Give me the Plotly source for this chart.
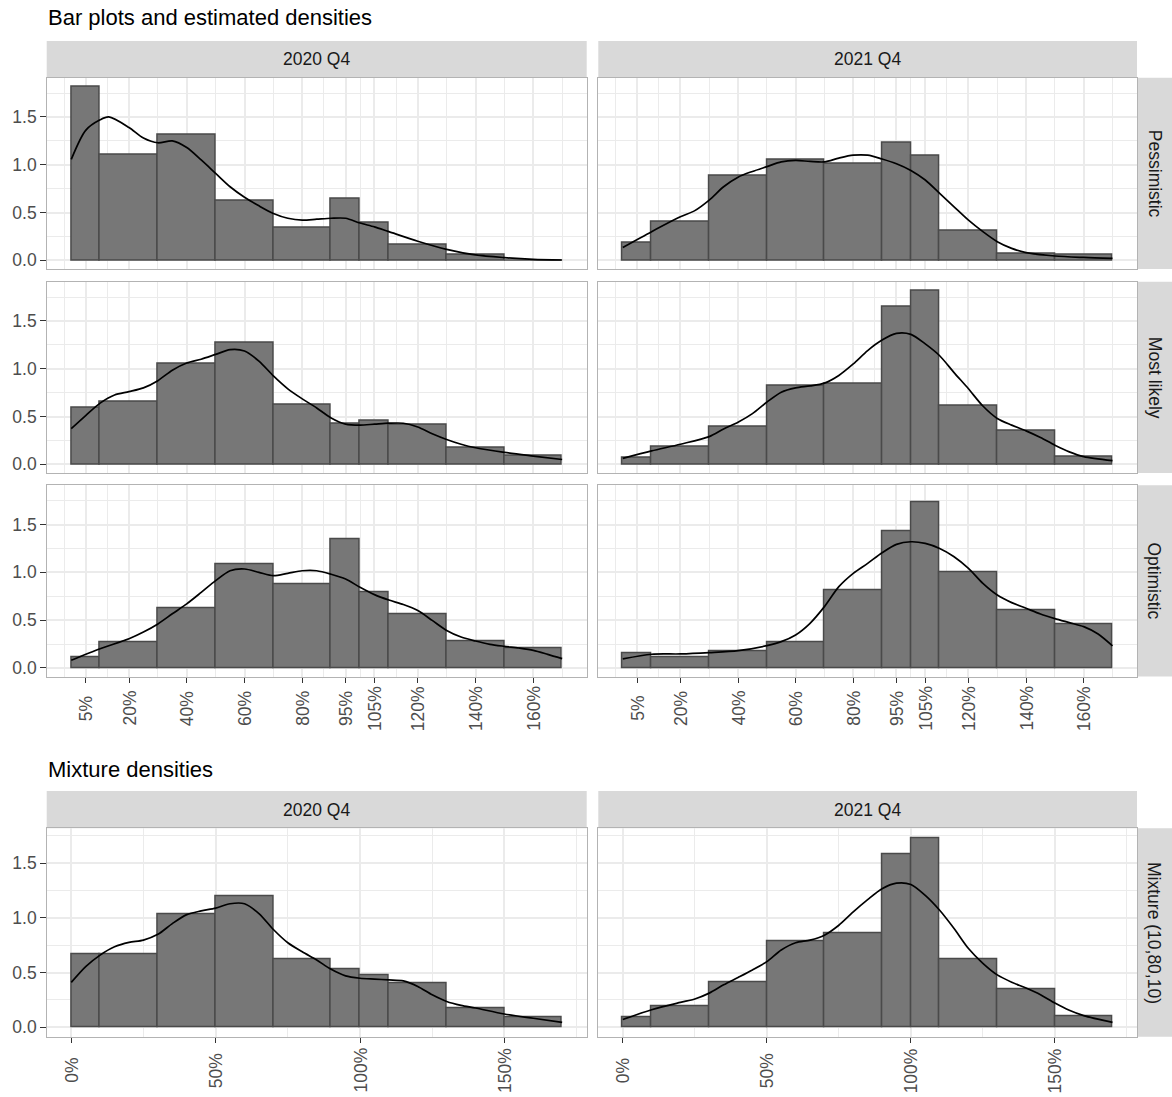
import plotly.graph_objects as go

# ---- data -------------------------------------------------------------
bin_edges = [0.0, 0.1, 0.3, 0.5, 0.7, 0.9, 1.0, 1.1, 1.3, 1.5, 1.7]

quarters = ["2020 Q4", "2021 Q4"]
scenarios = ["Pessimistic", "Most likely", "Optimistic"]

# histogram densities per bin
h_2020_pess = [1.82, 1.10, 1.31, 0.625, 0.337, 0.642, 0.392, 0.163, 0.059, 0.0]
h_2021_pess = [0.18, 0.40, 0.89, 1.05, 1.01, 1.23, 1.09, 0.31, 0.073, 0.056]
h_2020_ml = [0.59, 0.66, 1.054, 1.275, 0.626, 0.42, 0.453, 0.418, 0.176, 0.093]
h_2021_ml = [0.073, 0.18, 0.39, 0.824, 0.84, 1.645, 1.82, 0.617, 0.353, 0.076]
h_2020_opt = [0.115, 0.264, 0.62, 1.083, 0.878, 1.347, 0.788, 0.5625, 0.281, 0.208]
h_2021_opt = [0.153, 0.115, 0.174, 0.268, 0.808, 1.425, 1.728, 0.997, 0.603, 0.453]
h_2020_mix = [0.664, 0.664, 1.036, 1.197, 0.621, 0.53, 0.479, 0.406, 0.176, 0.091]
h_2021_mix = [0.091, 0.19, 0.415, 0.788, 0.855, 1.579, 1.733, 0.618, 0.345, 0.103]

# estimated density curves
d_2020_pess_x = [0, 0.05, 0.1, 0.13, 0.2, 0.25, 0.3, 0.35, 0.4, 0.45, 0.5, 0.55, 0.6, 0.65,
                 0.7, 0.75, 0.8, 0.85, 0.9, 0.95, 1.0, 1.05, 1.1, 1.2, 1.3, 1.4, 1.5, 1.6, 1.7]
d_2020_pess_y = [1.056, 1.36, 1.47, 1.50, 1.39, 1.28, 1.23, 1.25, 1.18, 1.05, 0.91, 0.77, 0.66, 0.57,
                 0.49, 0.44, 0.42, 0.43, 0.44, 0.44, 0.39, 0.35, 0.30, 0.20, 0.115, 0.056, 0.028, 0.01, 0.003]

d_2021_pess_x = [0, 0.1, 0.2, 0.25, 0.3, 0.35, 0.4, 0.45, 0.5, 0.55, 0.6, 0.65, 0.7, 0.75, 0.8,
                 0.85, 0.9, 0.95, 1.0, 1.05, 1.1, 1.15, 1.2, 1.25, 1.3, 1.35, 1.4, 1.5, 1.6, 1.7]
d_2021_pess_y = [0.135, 0.30, 0.455, 0.52, 0.63, 0.77, 0.87, 0.93, 0.98, 1.03, 1.045, 1.035, 1.03, 1.07, 1.10,
                 1.10, 1.06, 1.01, 0.94, 0.84, 0.70, 0.56, 0.42, 0.30, 0.195, 0.125, 0.08, 0.045, 0.03, 0.02]

d_2020_ml_x = [0, 0.05, 0.1, 0.15, 0.2, 0.25, 0.3, 0.35, 0.4, 0.45, 0.5, 0.55, 0.6, 0.65, 0.7, 0.75,
               0.8, 0.85, 0.9, 0.95, 1.0, 1.05, 1.1, 1.15, 1.2, 1.25, 1.3, 1.35, 1.4, 1.5, 1.6, 1.7]
d_2020_ml_y = [0.373, 0.51, 0.64, 0.725, 0.76, 0.80, 0.875, 0.985, 1.06, 1.10, 1.15, 1.20, 1.186, 1.08, 0.925, 0.79,
               0.685, 0.59, 0.485, 0.42, 0.41, 0.42, 0.43, 0.43, 0.39, 0.32, 0.26, 0.21, 0.173, 0.124, 0.086, 0.05]

d_2021_ml_x = [0, 0.1, 0.2, 0.3, 0.35, 0.4, 0.45, 0.5, 0.55, 0.6, 0.65, 0.7, 0.75, 0.8, 0.85, 0.9,
               0.95, 1.0, 1.05, 1.1, 1.15, 1.2, 1.25, 1.3, 1.35, 1.4, 1.45, 1.5, 1.55, 1.6, 1.7]
d_2021_ml_y = [0.062, 0.14, 0.21, 0.29, 0.37, 0.44, 0.53, 0.65, 0.755, 0.80, 0.82, 0.85, 0.93, 1.05, 1.19, 1.30,
               1.37, 1.36, 1.26, 1.136, 0.96, 0.79, 0.61, 0.48, 0.41, 0.35, 0.28, 0.20, 0.13, 0.08, 0.038]

d_2020_opt_x = [0, 0.1, 0.2, 0.25, 0.3, 0.35, 0.4, 0.45, 0.5, 0.55, 0.6, 0.65, 0.7, 0.75, 0.8, 0.85, 0.9,
                0.95, 1.0, 1.05, 1.1, 1.15, 1.2, 1.25, 1.3, 1.35, 1.4, 1.45, 1.5, 1.55, 1.6, 1.65, 1.7]
d_2020_opt_y = [0.08, 0.20, 0.305, 0.375, 0.46, 0.566, 0.67, 0.79, 0.913, 1.017, 1.035, 1.0, 0.965, 0.99, 1.017, 1.017, 0.98,
                0.93, 0.844, 0.767, 0.71, 0.663, 0.60, 0.497, 0.392, 0.323, 0.281, 0.247, 0.226, 0.208, 0.184, 0.142, 0.097]

d_2021_opt_x = [0, 0.1, 0.2, 0.3, 0.4, 0.5, 0.55, 0.6, 0.65, 0.7, 0.75, 0.8, 0.85, 0.9, 0.95, 1.0, 1.05,
                1.1, 1.15, 1.2, 1.25, 1.3, 1.35, 1.4, 1.45, 1.5, 1.55, 1.6, 1.65, 1.7]
d_2021_opt_y = [0.094, 0.143, 0.146, 0.16, 0.18, 0.233, 0.275, 0.345, 0.467, 0.641, 0.85, 0.99, 1.094, 1.205, 1.293, 1.32, 1.303,
                1.25, 1.164, 1.042, 0.885, 0.763, 0.683, 0.624, 0.564, 0.516, 0.474, 0.432, 0.355, 0.23]

d_2020_mix_x = [0, 0.05, 0.1, 0.15, 0.2, 0.25, 0.3, 0.35, 0.4, 0.45, 0.5, 0.55, 0.6, 0.65, 0.7, 0.75,
                0.8, 0.85, 0.9, 0.95, 1.0, 1.05, 1.1, 1.15, 1.2, 1.25, 1.3, 1.35, 1.4, 1.5, 1.6, 1.7]
d_2020_mix_y = [0.41, 0.555, 0.66, 0.736, 0.776, 0.797, 0.85, 0.948, 1.03, 1.064, 1.09, 1.13, 1.13, 1.04, 0.894, 0.773,
                0.69, 0.615, 0.53, 0.47, 0.448, 0.44, 0.433, 0.424, 0.373, 0.297, 0.236, 0.2, 0.176, 0.121, 0.082, 0.045]

d_2021_mix_x = [0, 0.1, 0.2, 0.25, 0.3, 0.35, 0.4, 0.45, 0.5, 0.55, 0.6, 0.65, 0.7, 0.75, 0.8, 0.85, 0.9,
                0.95, 1.0, 1.05, 1.1, 1.15, 1.2, 1.25, 1.3, 1.35, 1.4, 1.45, 1.5, 1.55, 1.6, 1.7]
d_2021_mix_y = [0.07, 0.16, 0.227, 0.258, 0.312, 0.388, 0.455, 0.524, 0.6, 0.706, 0.773, 0.797, 0.842, 0.933, 1.055, 1.167, 1.267,
                1.318, 1.306, 1.206, 1.07, 0.903, 0.72, 0.585, 0.479, 0.412, 0.358, 0.297, 0.221, 0.155, 0.106, 0.045]

top_x_ticks = [0.05, 0.2, 0.4, 0.6, 0.8, 0.95, 1.05, 1.2, 1.4, 1.6]
top_x_labels = ["5%", "20%", "40%", "60%", "80%", "95%", "105%", "120%", "140%", "160%"]
top_x_minor = [-0.025, 0.125, 0.3, 0.5, 0.7, 0.875, 1.0, 1.125, 1.3, 1.5, 1.7]
mix_x_ticks = [0, 0.5, 1.0, 1.5]
mix_x_labels = ["0%", "50%", "100%", "150%"]
mix_x_minor = [0.25, 0.75, 1.25, 1.75]
y_ticks = [0, 0.5, 1.0, 1.5]
y_labels = ["0.0", "0.5", "1.0", "1.5"]
y_minor = [0.25, 0.75, 1.25, 1.75]

# ---- geometry (pixels) ----------------------------------------------
W, H = 1172, 1097
col_px = [(46.7, 586.7), (598.3, 1137.0)]
row_px = [(77.7, 269.0), (281.7, 473.0), (485.3, 676.6), (828.3, 1036.7)]
strip_top_px = [(41.0, 77.7), (791.0, 828.3)]
strip_right_px = (1137.0, 1172.0)
# vertical centre of the rotated x tick labels, per row (top block / mixture block)
xlab_center_px = {2: 708.5, 3: 1070.5}


def fx(p):
    return p / W


def fy(p):
    return 1 - p / H


FONT = "Liberation Sans, Arial, sans-serif"
GRID = "#EBEBEB"
BORDER = "#B3B3B3"
STRIP = "#D9D9D9"
BAR_FILL = "#777777"
BAR_LINE = "#4A4A4A"
TICK_SIZE = 17.5

panels = [
    (0, 0, h_2020_pess, d_2020_pess_x, d_2020_pess_y),
    (0, 1, h_2021_pess, d_2021_pess_x, d_2021_pess_y),
    (1, 0, h_2020_ml, d_2020_ml_x, d_2020_ml_y),
    (1, 1, h_2021_ml, d_2021_ml_x, d_2021_ml_y),
    (2, 0, h_2020_opt, d_2020_opt_x, d_2020_opt_y),
    (2, 1, h_2021_opt, d_2021_opt_x, d_2021_opt_y),
    (3, 0, h_2020_mix, d_2020_mix_x, d_2020_mix_y),
    (3, 1, h_2021_mix, d_2021_mix_x, d_2021_mix_y),
]

centers = [(a + b) / 2 for a, b in zip(bin_edges[:-1], bin_edges[1:])]
widths = [b - a for a, b in zip(bin_edges[:-1], bin_edges[1:])]

fig = go.Figure()
layout_axes = {}
annotations = []
tick_font = dict(family=FONT, size=TICK_SIZE, color="#4D4D4D")

for i, (r, c, heights, dx, dy) in enumerate(panels, start=1):
    xa = "x" if i == 1 else f"x{i}"
    ya = "y" if i == 1 else f"y{i}"
    fig.add_trace(go.Bar(
        x=centers, y=heights, width=widths,
        marker=dict(color=BAR_FILL, line=dict(color=BAR_LINE, width=1.5)),
        xaxis=xa, yaxis=ya, showlegend=False, hoverinfo="skip",
    ))
    fig.add_trace(go.Scatter(
        x=dx, y=dy, mode="lines", line=dict(color="black", width=1.7, shape="spline", smoothing=0.8),
        xaxis=xa, yaxis=ya, showlegend=False, hoverinfo="skip",
    ))

    is_mix = r == 3
    show_x = r in (2, 3)
    show_y = c == 0
    x0, x1 = col_px[c]
    y0, y1 = row_px[r]
    xkey = "xaxis" if i == 1 else f"xaxis{i}"
    ykey = "yaxis" if i == 1 else f"yaxis{i}"
    xt = mix_x_ticks if is_mix else top_x_ticks
    xl = mix_x_labels if is_mix else top_x_labels
    layout_axes[xkey] = dict(
        domain=[fx(x0), fx(x1)], anchor=ya, range=[-0.085, 1.785],
        tickmode="array", tickvals=xt, ticktext=xl,
        showticklabels=False, ticks="outside" if show_x else "",
        ticklen=5.5, tickwidth=1.1, tickcolor="#333333",
        showgrid=True, gridcolor=GRID, gridwidth=1.6, zeroline=False,
        minor=dict(tickmode="array", tickvals=mix_x_minor if is_mix else top_x_minor,
                   showgrid=True, gridcolor=GRID, gridwidth=0.8, ticks=""),
        showline=True, linecolor=BORDER, linewidth=1.1, mirror=True,
        fixedrange=True,
    )
    layout_axes[ykey] = dict(
        domain=[fy(y1), fy(y0)], anchor=xa,
        range=[-0.0867, 1.82] if is_mix else [-0.091, 1.911],
        tickmode="array", tickvals=y_ticks, ticktext=y_labels,
        showticklabels=show_y, ticks="outside" if show_y else "",
        ticklen=5.5, tickwidth=1.1, tickcolor="#333333", tickfont=tick_font,
        showgrid=True, gridcolor=GRID, gridwidth=1.6, zeroline=False,
        minor=dict(tickmode="array", tickvals=y_minor,
                   showgrid=True, gridcolor=GRID, gridwidth=0.8, ticks=""),
        showline=True, linecolor=BORDER, linewidth=1.1, mirror=True,
        fixedrange=True,
    )
    # vertical x tick labels, centred under each tick
    if show_x:
        for v, lab in zip(xt, xl):
            annotations.append(dict(
                text=lab, x=v, xref=xa, y=fy(xlab_center_px[r]), yref="paper",
                textangle=-90, xanchor="center", yanchor="middle",
                showarrow=False, font=tick_font,
            ))

shapes = []
strip_font = dict(family=FONT, size=17.5, color="#1A1A1A")

# column strips (quarters)
for (s0, s1) in strip_top_px:
    for c, q in enumerate(quarters):
        x0, x1 = col_px[c]
        shapes.append(dict(type="rect", xref="paper", yref="paper",
                           x0=fx(x0), x1=fx(x1), y0=fy(s1), y1=fy(s0),
                           fillcolor=STRIP, line=dict(width=0), layer="below"))
        annotations.append(dict(text=q, xref="paper", yref="paper",
                                x=fx((x0 + x1) / 2), y=fy((s0 + s1) / 2),
                                showarrow=False, font=strip_font,
                                xanchor="center", yanchor="middle"))

# row strips (scenarios)
row_labels = scenarios + ["Mixture (10,80,10)"]
for r, lab in enumerate(row_labels):
    y0, y1 = row_px[r]
    sx0, sx1 = strip_right_px
    shapes.append(dict(type="rect", xref="paper", yref="paper",
                       x0=fx(sx0), x1=fx(sx1), y0=fy(y1), y1=fy(y0),
                       fillcolor=STRIP, line=dict(width=0), layer="below"))
    annotations.append(dict(text=lab, xref="paper", yref="paper",
                            x=fx((sx0 + sx1) / 2), y=fy((y0 + y1) / 2),
                            showarrow=False, font=strip_font, textangle=90,
                            xanchor="center", yanchor="middle"))

# section titles
title_font = dict(family=FONT, size=22, color="black")
annotations.append(dict(text="Bar plots and estimated densities", xref="paper", yref="paper",
                        x=fx(46.0), y=fy(17), xanchor="left", yanchor="middle",
                        showarrow=False, font=title_font))
annotations.append(dict(text="Mixture densities", xref="paper", yref="paper",
                        x=fx(46.0), y=fy(769), xanchor="left", yanchor="middle",
                        showarrow=False, font=title_font))

fig.update_layout(
    width=W, height=H,
    margin=dict(l=0, r=0, t=0, b=0),
    paper_bgcolor="white", plot_bgcolor="white",
    bargap=0, showlegend=False,
    shapes=shapes, annotations=annotations,
    font=dict(family=FONT),
    **layout_axes,
)

fig.write_html("out.html")
